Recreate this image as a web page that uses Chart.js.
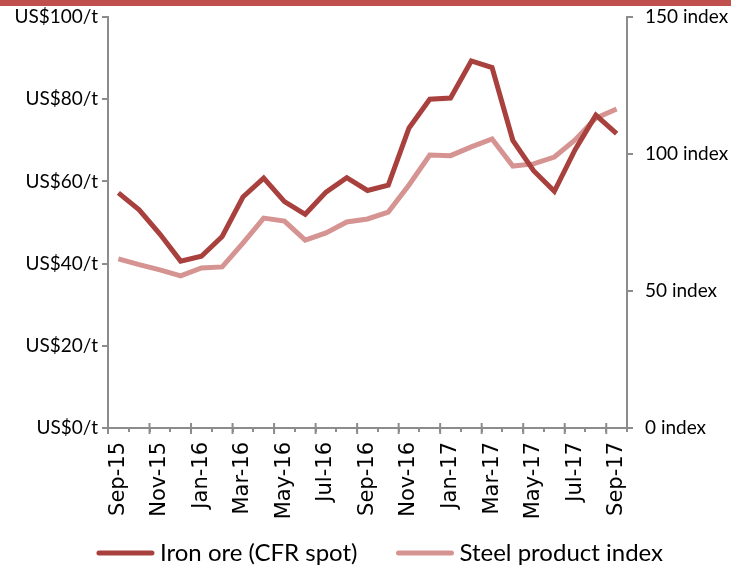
<!DOCTYPE html>
<html>
<head>
<meta charset="utf-8">
<script src="https://cdn.jsdelivr.net/npm/chart.js@4/dist/chart.umd.min.js"></script>
<style>
    html, body { margin: 0; padding: 0; background: #ffffff; }
    #wrap { position: relative; width: 731px; height: 565px; }
    #top_bar { position: absolute; left: 0; top: 0; width: 731px; height: 6px; background: #c0504d; }
    canvas { position: absolute; left: 0; top: 0; }
</style>
</head>
<body>
<div id="wrap">
    <canvas id="chart" width="731" height="565"></canvas>
    <div id="top_bar"></div>
</div>
<script>
var months = [
    "Sep-15", "Oct-15", "Nov-15", "Dec-15", "Jan-16", "Feb-16", "Mar-16", "Apr-16", "May-16",
    "Jun-16", "Jul-16", "Aug-16", "Sep-16", "Oct-16", "Nov-16", "Dec-16", "Jan-17", "Feb-17",
    "Mar-17", "Apr-17", "May-17", "Jun-17", "Jul-17", "Aug-17", "Sep-17"
];

// US$/t, left axis
var iron_ore = [
    57.2, 53.1, 47.2, 40.6, 41.8, 46.6, 56.2, 60.8, 55.1,
    52.0, 57.4, 60.9, 57.8, 59.1, 73.0, 80.0, 80.3, 89.3,
    87.7, 70.0, 62.6, 57.6, 67.7, 76.1, 71.6
];

// index, right axis
var steel_index = [
    61.7, 59.6, 57.7, 55.5, 58.4, 58.8, 67.5, 76.6, 75.5,
    68.6, 71.2, 75.2, 76.3, 78.8, 88.7, 99.6, 99.4, 102.6,
    105.5, 95.6, 96.4, 98.9, 105.1, 113.1, 116.4
];

var left_ticks = [0, 20, 40, 60, 80, 100];
var right_ticks = [0, 50, 100, 150];

var iron_color = "#a8413e";
var steel_color = "#d59391";
var axis_color = "#8c8c8c";
var font_family = "Lato, 'Open Sans', sans-serif";

// Legend sample drawn as a thick round-capped line, right side of the (wide) legend box
var line_sample_plugin = {
    id: "line_sample",
    afterDraw: function (chart) {
        var legend = chart.legend;
        if (!legend || !legend.legendHitBoxes) {
            return;
        }
        var box_width = legend.options.labels.boxWidth;
        var ctx = chart.ctx;
        ctx.save();
        legend.legendHitBoxes.forEach(function (box, i) {
            var item = legend.legendItems[i];
            var y = box.top + box.height / 2;
            ctx.strokeStyle = item.strokeStyle;
            ctx.lineWidth = 5;
            ctx.lineCap = "round";
            ctx.beginPath();
            ctx.moveTo(box.left + box_width - 49, y);
            ctx.lineTo(box.left + box_width + 4, y);
            ctx.stroke();
        });
        ctx.restore();
    }
};

// Excel-style cross ticks on every second category boundary
var cross_tick_plugin = {
    id: "cross_ticks",
    afterDraw: function (chart) {
        var x_scale = chart.scales.x;
        var ctx = chart.ctx;
        var bottom = chart.chartArea.bottom;
        var step = x_scale.getPixelForValue(1) - x_scale.getPixelForValue(0);
        ctx.save();
        ctx.strokeStyle = axis_color;
        ctx.lineWidth = 2;
        for (var i = 0; i <= months.length; i += 2) {
            var x = x_scale.getPixelForValue(i) - step / 2;
            ctx.beginPath();
            ctx.moveTo(x, bottom - 5);
            ctx.lineTo(x, bottom + 6);
            ctx.stroke();
        }
        ctx.restore();
    }
};

var config = {
    type: "line",
    data: {
        labels: months,
        datasets: [
            {
                label: "Iron ore (CFR spot)",
                data: iron_ore,
                yAxisID: "y",
                borderColor: iron_color,
                backgroundColor: iron_color,
                borderWidth: 5,
                pointRadius: 0,
                tension: 0
            },
            {
                label: "Steel product index",
                data: steel_index,
                yAxisID: "y2",
                borderColor: steel_color,
                backgroundColor: steel_color,
                borderWidth: 5,
                pointRadius: 0,
                tension: 0
            }
        ]
    },
    options: {
        responsive: false,
        animation: false,
        layout: {
            padding: {top: 17, left: 0, right: 0, bottom: -10}
        },
        scales: {
            x: {
                offset: true,
                grid: {
                    offset: true,
                    drawOnChartArea: false,
                    drawTicks: true,
                    tickLength: 4,
                    color: axis_color,
                    lineWidth: 2
                },
                border: {color: axis_color, width: 2},
                ticks: {
                    autoSkip: false,
                    minRotation: 90,
                    maxRotation: 90,
                    padding: 10,
                    color: "#000000",
                    font: {family: "'DejaVu Sans', sans-serif", size: 21},
                    callback: function (value, index) {
                        return index % 2 === 0 ? months[index] : "";
                    }
                },
                afterFit: function (scale) {
                    scale.height = 103;
                }
            },
            y: {
                position: "left",
                min: 0,
                max: 100,
                afterBuildTicks: function (scale) {
                    scale.ticks = left_ticks.map(function (v) { return {value: v}; });
                },
                grid: {
                    drawOnChartArea: false,
                    tickLength: 6,
                    color: axis_color,
                    lineWidth: 2
                },
                border: {color: axis_color, width: 2},
                ticks: {
                    padding: 4,
                    color: "#000000",
                    font: {family: font_family, size: 19},
                    callback: function (value) {
                        return "US$" + value + "/t";
                    }
                },
                afterFit: function (scale) {
                    scale.width = 108;
                    scale.paddingTop = 0;
                    scale.paddingBottom = 0;
                }
            },
            y2: {
                position: "right",
                min: 0,
                max: 150,
                afterBuildTicks: function (scale) {
                    scale.ticks = right_ticks.map(function (v) { return {value: v}; });
                },
                grid: {
                    drawOnChartArea: false,
                    tickLength: 6,
                    color: axis_color,
                    lineWidth: 2
                },
                border: {color: axis_color, width: 2},
                ticks: {
                    padding: 12,
                    color: "#000000",
                    font: {family: font_family, size: 19},
                    callback: function (value) {
                        return value + " index";
                    }
                },
                afterFit: function (scale) {
                    scale.width = 104;
                    scale.paddingTop = 0;
                    scale.paddingBottom = 0;
                }
            }
        },
        plugins: {
            legend: {
                display: true,
                position: "bottom",
                labels: {
                    boxWidth: 80,
                    boxHeight: 0,
                    padding: 10,
                    color: "#000000",
                    font: {family: font_family, size: 24},
                    generateLabels: function (chart) {
                        return chart.data.datasets.map(function (ds, i) {
                            return {
                                text: ds.label,
                                fillStyle: "rgba(0,0,0,0)",
                                strokeStyle: ds.borderColor,
                                lineWidth: 0,
                                hidden: false,
                                datasetIndex: i
                            };
                        });
                    }
                }
            },
            tooltip: {enabled: false},
            title: {display: false}
        }
    },
    plugins: [line_sample_plugin, cross_tick_plugin]
};

new Chart(document.getElementById("chart").getContext("2d"), config);
</script>
</body>
</html>
